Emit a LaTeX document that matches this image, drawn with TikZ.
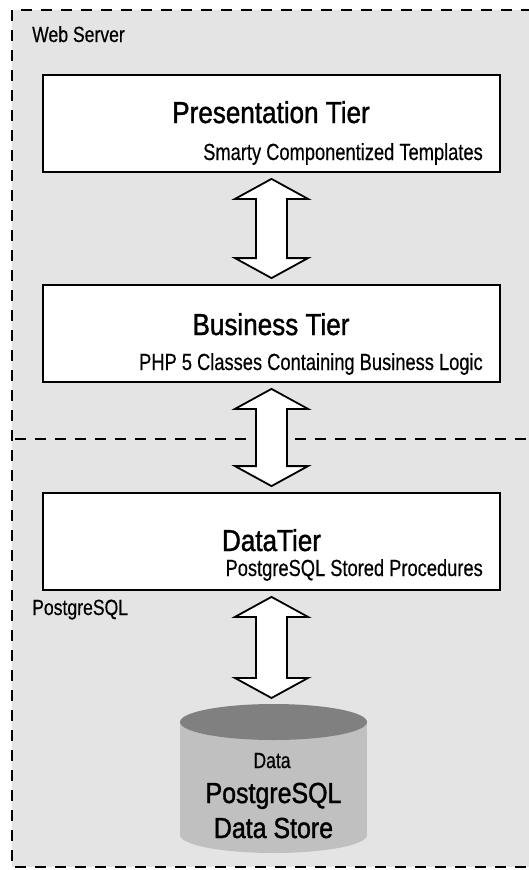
\documentclass[tikz,border=0pt]{standalone}
\usepackage{fontspec}
\setmainfont{Liberation Sans}[FakeStretch=0.80, FakeBold=0.4]
\newfontfamily\tierfont{Liberation Sans}[FakeStretch=0.86, FakeBold=1.3]
\newfontfamily\subfont{Liberation Sans}[FakeStretch=0.785, FakeBold=0.4]
\usetikzlibrary{calc}

\definecolor{zonegray}{HTML}{E4E4E4}
\definecolor{dbend}{HTML}{808080}
\definecolor{dbbody}{HTML}{C0C0C0}

% hollow double arrow between two anchors
\newcommand{\fatarrow}[2]{%
	\draw[fat] let \p1=(#1), \p2=(#2) in
		(\x1,\y1-6pt) -- (\x1+36.5pt,\y1-26pt) -- (\x1+15.5pt,\y1-26pt)
		-- (\x1+15.5pt,\y2+26pt) -- (\x1+36.5pt,\y2+26pt) -- (\x1,\y2+6pt)
		-- (\x1-36.5pt,\y2+26pt) -- (\x1-15.5pt,\y2+26pt)
		-- (\x1-15.5pt,\y1-26pt) -- (\x1-36.5pt,\y1-26pt) -- cycle;}

\begin{document}
\begin{tikzpicture}[x=1pt,y=-1pt,
	tierbox/.style={draw, line width=1.8pt, fill=white, minimum width=457pt, minimum height=97pt},
	tiertitle/.style={font=\fontsize{30.3}{32}\tierfont, anchor=base, inner sep=0pt},
	tiersub/.style={font=\fontsize{23.3}{24}\subfont, anchor=base east, inner sep=0pt},
	zonelabel/.style={font=\fontsize{22}{22}\selectfont, anchor=base west, inner sep=0pt},
	zoneline/.style={line width=1.3pt, dash pattern=on 11pt off 9pt},
	fat/.style={draw, line width=1.8pt, fill=white, line join=miter}]
\useasboundingbox (0,0) rectangle (529,870);

% zones
\fill[zonegray] (12,10) rectangle (545,867);
\draw[zoneline] (12,10) rectangle (545,867);
\draw[zoneline] (15,439) -- (535,439);
\node[zonelabel] (web) at (32,42) {Web Server};
\node[zonelabel] (pg) at (32,615) {PostgreSQL};

% tiers
\node[tierbox] (pres) at (271.5,123.5) {};
\node[tiertitle] (prest) at (271,123) {Presentation Tier};
\node[tiersub] (press) at (483,160) {Smarty Componentized Templates};

\node[tierbox] (bus) at (271.5,333.5) {};
\node[tiertitle] (bust) at (271,335) {Business Tier};
\node[tiersub] (buss) at (483,370) {PHP 5 Classes Containing Business Logic};

\node[tierbox] (data) at (271.5,541.5) {};
\node[tiertitle] (datat) at (271.5,551) {DataTier};
\node[tiersub] (datas) at (483,576) {PostgreSQL Stored Procedures};

% data store
\fill[dbbody] (180,722) rectangle (367,835);
\fill[dbbody] (273.5,835) ellipse [x radius=93.5, y radius=18];
\fill[dbend] (273.5,722) ellipse [x radius=93.5, y radius=18];
\coordinate (dbtop) at (273.5,704);
\node[font=\fontsize{22}{24}\selectfont, anchor=base] (dbl) at (272,768) {Data};
\node[font=\fontsize{29}{35}\tierfont, anchor=base, align=center] (db) at (273.5,838) {PostgreSQL\\Data Store};

% arrows
\fatarrow{pres.south}{bus.north}
\fatarrow{bus.south}{data.north}
\fatarrow{data.south}{dbtop}
\end{tikzpicture}
\end{document}
